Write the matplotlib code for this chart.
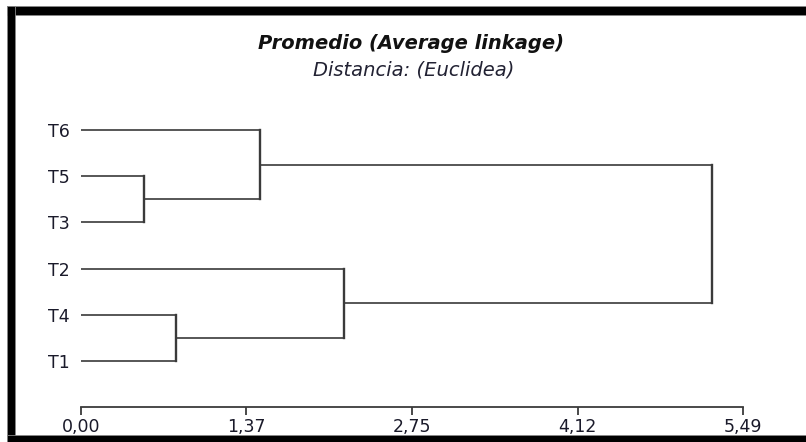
import matplotlib
matplotlib.use("Agg")
import matplotlib.pyplot as plt
from matplotlib.patches import Rectangle

# ---- data ----
leaves = ["T6", "T5", "T3", "T2", "T4", "T1"]          # top to bottom
merge_names = ["C1", "C2", "C3", "C4", "C5"]
merge_left = ["T5", "T4", "T6", "T2", "C3"]
merge_right = ["T3", "T1", "C1", "C2", "C4"]
merge_height = [0.525, 0.786, 1.485, 2.185, 5.234]
tick_values = [0.00, 1.37, 2.75, 4.12, 5.49]
tick_labels = ["0,00", "1,37", "2,75", "4,12", "5,49"]
title = "Promedio (Average linkage)"
subtitle = "Distancia: (Euclidea)"

plt.rcParams['font.family'] = ['DejaVu Sans']

W, H = 806, 442
fig = plt.figure(figsize=(W / 100, H / 100), dpi=100)
fig.patch.set_facecolor("white")

ax_left, ax_right = 81, 742.7
ax_top, ax_bot = 120, 407.3
ax = fig.add_axes([ax_left / W, 1 - ax_bot / H, (ax_right - ax_left) / W, (ax_bot - ax_top) / H])

n = len(leaves)
pos = {name: n - 1 - i for i, name in enumerate(leaves)}
height = {name: 0.0 for name in leaves}

line_col = "#3a3a3a"
for name, l, r, h in zip(merge_names, merge_left, merge_right, merge_height):
    for c in (l, r):
        ax.plot([height[c], h], [pos[c], pos[c]], color=line_col, lw=1.2,
                solid_capstyle="butt")
    ax.plot([h, h], [pos[l], pos[r]], color=line_col, lw=1.7,
            solid_capstyle="projecting")
    pos[name] = (pos[l] + pos[r]) / 2
    height[name] = h

ax.set_xlim(0, 5.49)
ax.set_ylim(-1.0, n - 1 + 10 / 46.2)

for s in ["top", "right", "left"]:
    ax.spines[s].set_visible(False)
ax.spines["bottom"].set_bounds(0, 5.49)
ax.spines["bottom"].set_color(line_col)
ax.spines["bottom"].set_linewidth(1.3)

ax.set_xticks(tick_values)
ax.set_xticklabels(tick_labels)
ax.tick_params(axis="x", direction="out", length=5.5, width=1.3, color=line_col,
               labelsize=12.5, labelcolor="#1a1a2a", pad=2.5)

ax.set_yticks([n - 1 - i for i in range(n)])
ax.set_yticklabels(leaves)
ax.tick_params(axis="y", length=0, pad=8, labelsize=12.5, labelcolor="#1a1a2a")

fig.text(411 / W, 1 - 49 / H, title, ha="center", va="baseline", fontsize=14,
         fontweight="bold", fontstyle="italic", color="#111111")
fig.text(414 / W, 1 - 76 / H, subtitle, ha="center", va="baseline", fontsize=14,
         fontstyle="italic", color="#222233")

# thick black frame (left, top, bottom)
def px_rect(x0, y0, x1, y1):
    fig.add_artist(Rectangle((x0 / W, 1 - y1 / H), (x1 - x0) / W, (y1 - y0) / H,
                             transform=fig.transFigure, facecolor="black",
                             edgecolor="#888888", lw=0.6))

px_rect(6.5, 6, W + 2, 15)
px_rect(6.5, 6, 15, H + 2)
px_rect(6.5, 435, W + 2, H + 2)

fig.savefig("out.png", dpi=100, facecolor="white")
